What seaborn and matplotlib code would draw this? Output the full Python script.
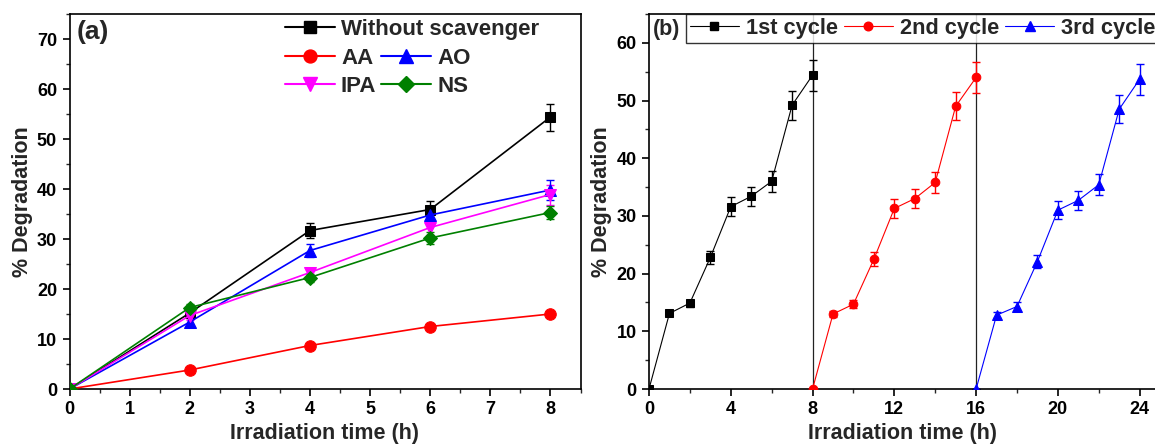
import numpy as np
import pandas as pd
import matplotlib
matplotlib.use("Agg")
import matplotlib.pyplot as plt
from matplotlib.lines import Line2D
from matplotlib.ticker import MultipleLocator
import seaborn as sns

# ---------------- data: panel (a) ----------------
time_a = [0, 2, 4, 6, 8]
without_scav = [0, 15.2, 31.7, 35.9, 54.4]
without_err = [0, 0.9, 1.5, 1.8, 2.7]
aa = [0, 3.8, 8.7, 12.5, 15.0]
aa_err = [0, 0.3, 0.4, 0.4, 0.4]
ao = [0, 13.4, 27.7, 34.8, 39.8]
ao_err = [0, 0.8, 1.3, 1.2, 2.0]
ipa = [0, 14.7, 23.3, 32.3, 38.9]
ipa_err = [0, 0.9, 1.0, 1.5, 2.0]
ns = [0, 16.3, 22.3, 30.2, 35.3]
ns_err = [0, 0.7, 0.8, 1.2, 1.3]

# ---------------- data: panel (b) ----------------
time_c1 = [0, 1, 2, 3, 4, 5, 6, 7, 8]
time_c2 = [8, 9, 10, 11, 12, 13, 14, 15, 16]
time_c3 = [16, 17, 18, 19, 20, 21, 22, 23, 24]
cycle1 = [0, 13.1, 14.9, 22.8, 31.6, 33.4, 36.0, 49.2, 54.4]
cycle1_err = [0, 0.5, 0.6, 1.2, 1.6, 1.7, 1.8, 2.5, 2.7]
cycle2 = [0, 13.0, 14.7, 22.5, 31.3, 33.0, 35.8, 49.0, 54.0]
cycle2_err = [0, 0.5, 0.7, 1.2, 1.6, 1.7, 1.8, 2.4, 2.7]
cycle3 = [0, 12.8, 14.3, 22.1, 31.0, 32.7, 35.4, 48.5, 53.7]
cycle3_err = [0, 0.5, 0.7, 1.1, 1.6, 1.7, 1.8, 2.4, 2.7]

sns.set_theme(style="ticks")
plt.rcParams['font.family'] = ['Liberation Sans', 'DejaVu Sans']
plt.rcParams['font.weight'] = 'bold'
plt.rcParams['axes.labelweight'] = 'bold'
plt.rcParams['axes.linewidth'] = 1.2
plt.rcParams['axes.edgecolor'] = 'black'

W, H = 1155, 446
fig = plt.figure(figsize=(W / 100, H / 100), dpi=100)

def px_axes(l, t, r, b):
    return fig.add_axes([l / W, 1 - b / H, (r - l) / W, (b - t) / H])

axA = px_axes(69.5, 14, 580.5, 389)
axB = px_axes(649, 14, 1155, 389)

def style_axes(ax):
    ax.tick_params(axis='both', which='major', direction='out', length=5, width=1.2,
                   labelsize=13, colors='black', pad=4)
    ax.tick_params(axis='both', which='minor', direction='out', length=3, width=1.0)
    for lab in ax.get_xticklabels() + ax.get_yticklabels():
        lab.set_fontweight('bold')
    ax.set_facecolor('white')

# ---------------- panel (a) ----------------
series_a = [
    ("Without scavenger", without_scav, without_err, '#000000', 's', 7.5),
    ("AA", aa, aa_err, '#FF0000', 'o', 8.3),
    ("AO", ao, ao_err, '#0000FF', '^', 9.0),
    ("IPA", ipa, ipa_err, '#FF00FF', 'v', 9.0),
    ("NS", ns, ns_err, '#008000', 'D', 7.5),
]
handles_a = {}
for name, vals, errs, col, mk, ms in series_a:
    df = pd.DataFrame({"t": time_a, "d": vals})
    sns.lineplot(data=df, x="t", y="d", ax=axA, color=col, marker=mk, markersize=ms,
                 markeredgecolor=col, linewidth=1.2, legend=False, zorder=3)
    axA.errorbar(time_a, vals, yerr=errs, fmt='none', ecolor=col, elinewidth=1.0,
                 capsize=3, capthick=1.0, zorder=2)
    handles_a[name] = Line2D([], [], color=col, marker=mk, markersize=ms + 1,
                             markeredgecolor=col, linewidth=1.5)

axA.set_xlim(0, 8.5)
axA.set_ylim(0, 75)
axA.xaxis.set_major_locator(MultipleLocator(1))
axA.xaxis.set_minor_locator(MultipleLocator(0.5))
axA.set_yticks([0, 10, 20, 30, 40, 50, 60, 70])
axA.yaxis.set_minor_locator(MultipleLocator(5))
axA.set_xlabel("Irradiation time (h)", fontsize=15.5, fontweight='bold', labelpad=3)
axA.set_ylabel("% Degradation", fontsize=15.5, fontweight='bold', labelpad=2.5)
style_axes(axA)
axA.text(77 / W, 1 - 32 / H, "(a)", transform=fig.transFigure, fontsize=19,
         fontweight='bold', va='center', ha='left')

leg1 = fig.legend([handles_a["Without scavenger"]], ["Without scavenger"],
                  loc='upper left', bbox_to_anchor=(285 / W, 1 - 19 / H),
                  frameon=False, handlelength=2.25, handletextpad=0.27,
                  borderpad=0, borderaxespad=0, prop={'weight': 'bold', 'size': 16})
leg2 = fig.legend([handles_a["AA"], handles_a["IPA"], handles_a["AO"], handles_a["NS"]],
                  ["AA", "IPA", "AO", "NS"], ncol=2,
                  loc='upper left', bbox_to_anchor=(285 / W, 1 - 48 / H),
                  frameon=False, handlelength=2.25, handletextpad=0.27,
                  columnspacing=0.22, labelspacing=0.3,
                  borderpad=0, borderaxespad=0, prop={'weight': 'bold', 'size': 16})

# ---------------- panel (b) ----------------
series_b = [
    ("1st cycle", time_c1, cycle1, cycle1_err, '#000000', 's', 5.8),
    ("2nd cycle", time_c2, cycle2, cycle2_err, '#FF0000', 'o', 6.2),
    ("3rd cycle", time_c3, cycle3, cycle3_err, '#0000FF', '^', 7.8),
]
handles_b = []
for name, tt, vals, errs, col, mk, ms in series_b:
    df = pd.DataFrame({"t": tt, "d": vals})
    sns.lineplot(data=df, x="t", y="d", ax=axB, color=col, marker=mk, markersize=ms,
                 markeredgecolor=col, linewidth=0.8, legend=False, zorder=3)
    axB.errorbar(tt, vals, yerr=errs, fmt='none', ecolor=col, elinewidth=1.0,
                 capsize=3, capthick=1.0, zorder=2)
    handles_b.append(Line2D([], [], color=col, marker=mk, markersize=ms,
                            markeredgecolor=col, linewidth=0.8))

for xv in [8, 16]:
    axB.axvline(xv, color='#222222', linewidth=0.9, zorder=1)

axB.set_xlim(0, 24.75)
axB.set_ylim(0, 65)
axB.set_xticks([0, 4, 8, 12, 16, 20, 24])
axB.xaxis.set_minor_locator(MultipleLocator(2))
axB.set_yticks([0, 10, 20, 30, 40, 50, 60])
axB.yaxis.set_minor_locator(MultipleLocator(5))
axB.set_xlabel("Irradiation time (h)", fontsize=15.5, fontweight='bold', labelpad=3)
axB.set_ylabel("% Degradation", fontsize=15.5, fontweight='bold', labelpad=3.5)
style_axes(axB)
axB.spines['right'].set_visible(False)
axB.text(653 / W, 1 - 30 / H, "(b)", transform=fig.transFigure, fontsize=15.5,
         fontweight='bold', va='center', ha='left')

legB = fig.legend(handles_b, [s[0] for s in series_b], ncol=3,
                  loc='upper left', bbox_to_anchor=(686 / W, 1 - 14 / H),
                  frameon=True, fancybox=False, edgecolor='black',
                  handlelength=2.25, handletextpad=0.32, columnspacing=0.27,
                  borderpad=0.18, borderaxespad=0, prop={'weight': 'bold', 'size': 15.7})
legB.get_frame().set_linewidth(1.0)

fig.savefig("out.png", dpi=100, facecolor='white')
